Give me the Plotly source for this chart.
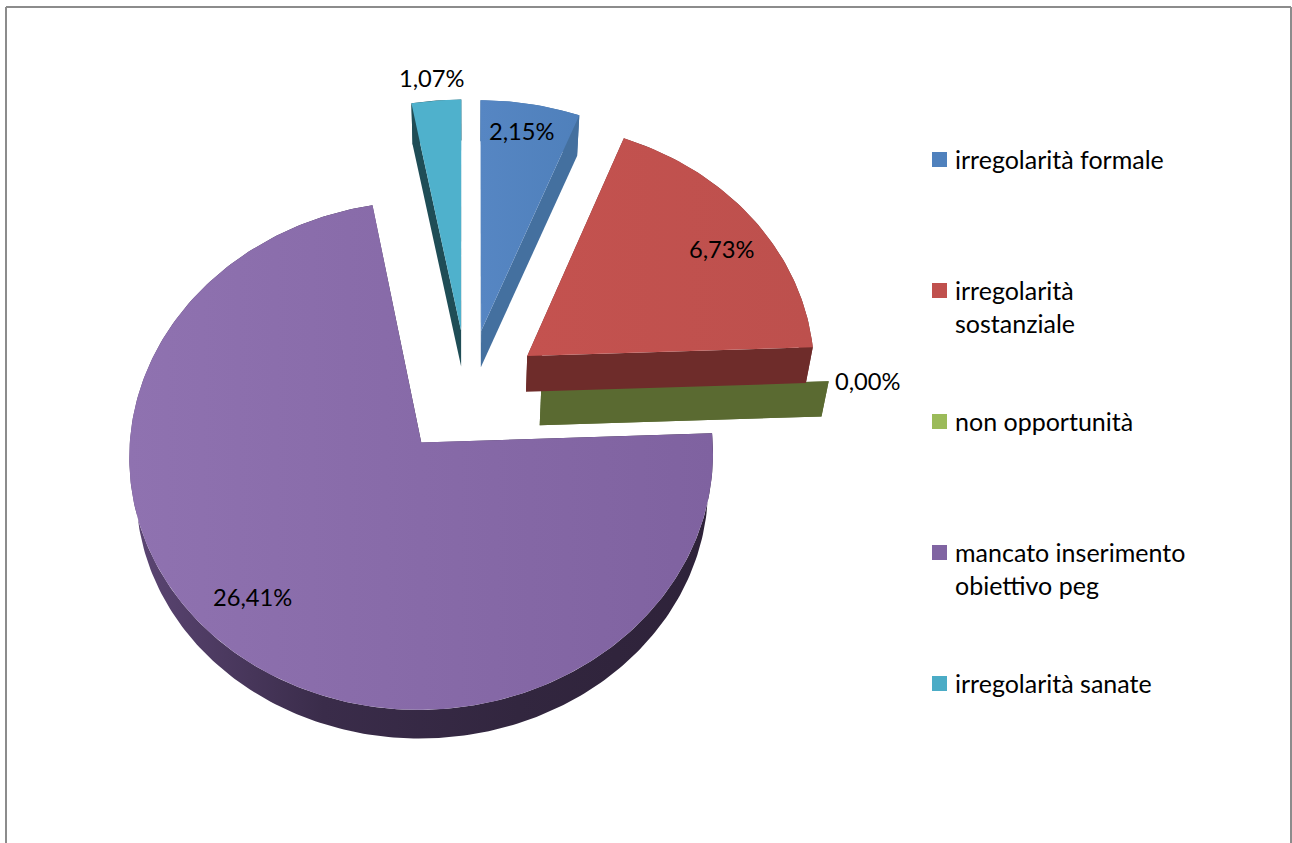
import numpy as np
import plotly.graph_objects as go

# Series
categories = ["irregolarità formale", "irregolarità\nsostanziale", "non opportunità",
              "mancato inserimento\nobiettivo peg", "irregolarità sanate"]
values = [2.15, 6.73, 0.00, 26.41, 1.07]
value_labels = ["2,15%", "6,73%", "0,00%", "26,41%", "1,07%"]

# Slice colours: legend swatch, top-face gradient stops, wall gradient stops
swatch = ["#4f81bd", "#c0504d", "#9bbb59", "#8064a2", "#4bacc6"]
top_shades = [("#5686c3", "#4f80bb"), ("#c4524f", "#bd504d"), ("#9bbb59", "#9bbb59"),
              ("#8f72b0", "#7f62a0"), ("#4fb1cc", "#4fb1cc")]
wall_shades = [("#44709f", "#44709f"), ("#6e2c2a", "#6e2c2a"), ("#5a6a31", "#5a6a31"),
               ("#5c4674", "#3a2c4a", "#32263f", "#2e2239"), ("#1f4d56", "#1f4d56")]

# Perspective disc model
CX, CY = 467.7, 392.5
RX, RY = 288.5, 248.5
PERSP = 0.0509
DEPTH = 35.0
FLOOR_SCALE = 0.98
EXPLODE = 0.255
FONT = "Lato"
VALUE_SIZE = 23.7
LEGEND_SIZE = 25


def project(u, v, floor=False):
    s = FLOOR_SCALE if floor else 1.0
    w = 1 + PERSP * v
    x = CX + s * RX * u / w
    y = CY - s * RY * v / w + (DEPTH if floor else 0.0)
    return x, y


def polygon(fig, xs, ys, shades):
    stops = np.linspace(0, 1, len(shades))
    fig.add_trace(go.Scatter(
        x=list(xs), y=list(ys), mode="lines", line=dict(width=0),
        fill="toself", hoverinfo="skip",
        fillgradient=dict(type="horizontal",
                          colorscale=[[float(p), c] for p, c in zip(stops, shades)]),
    ))


total = sum(values)
edges = np.concatenate([[0.0], np.cumsum(values)]) / total * 2 * np.pi

fig = go.Figure()

# Back slices are painted first so the nearer walls overlap them
for i in [4, 0, 2, 1, 3]:
    a0, a1 = edges[i], edges[i + 1]
    mid = (a0 + a1) / 2
    du, dv = EXPLODE * np.sin(mid), EXPLODE * np.cos(mid)
    t = np.linspace(a0, a1, max(2, int((a1 - a0) * 60)))
    arc_u, arc_v = du + np.sin(t), dv + np.cos(t)

    tx, ty = project(arc_u, arc_v)
    bx, by = project(arc_u, arc_v, floor=True)
    ax, ay = project(du, dv)
    fx, fy = project(du, dv, floor=True)

    # Outer rim and the two radial walls
    polygon(fig, np.r_[tx, bx[::-1], tx[0]], np.r_[ty, by[::-1], ty[0]], wall_shades[i])
    polygon(fig, [ax, tx[0], bx[0], fx, ax], [ay, ty[0], by[0], fy, ay], wall_shades[i])
    polygon(fig, [ax, tx[-1], bx[-1], fx, ax], [ay, ty[-1], by[-1], fy, ay], wall_shades[i])

    # Top face
    polygon(fig, np.r_[ax, tx, ax], np.r_[ay, ty, ay], top_shades[i])

# Data labels
label_pos = [(522, 131), (722, 249), (868, 381), (252, 597), (432, 78)]
annotations = [
    dict(x=x, y=y, text=txt, showarrow=False, xanchor="center", yanchor="middle",
         font=dict(family=FONT, size=VALUE_SIZE, color="#000000"))
    for txt, (x, y) in zip(value_labels, label_pos)
]

# Legend column
LEG_X, LEG_TEXT_X, LEG_Y0, LEG_STEP, LEG_LINE = 939.5, 953, 159.5, 131, 33
for i, (name, col) in enumerate(zip(categories, swatch)):
    y = LEG_Y0 + i * LEG_STEP
    fig.add_trace(go.Scatter(x=[LEG_X], y=[y], mode="markers", hoverinfo="skip",
                             marker=dict(symbol="square", size=15, color=col, line=dict(width=0))))
    for j, line in enumerate(name.split("\n")):
        annotations.append(dict(x=LEG_TEXT_X, y=y - 1 + j * LEG_LINE, text=line, showarrow=False,
                                xanchor="left", yanchor="middle",
                                font=dict(family=FONT, size=LEGEND_SIZE, color="#000000")))

# Chart frame, open at the bottom edge
frame = dict(color="#8c8c8c", width=2)
shapes = [
    dict(type="line", x0=6, x1=1291, y0=7, y1=7, line=frame),
    dict(type="line", x0=6, x1=6, y0=7, y1=843, line=frame),
    dict(type="line", x0=1291, x1=1291, y0=7, y1=843, line=frame),
]

fig.update_layout(
    width=1292, height=843, autosize=False, showlegend=False,
    margin=dict(l=0, r=0, t=0, b=0),
    paper_bgcolor="#ffffff", plot_bgcolor="#ffffff",
    xaxis=dict(range=[0, 1292], visible=False, fixedrange=True),
    yaxis=dict(range=[843, 0], visible=False, fixedrange=True),
    annotations=annotations, shapes=shapes,
)

fig.write_html("out.html", config={"displayModeBar": False})
